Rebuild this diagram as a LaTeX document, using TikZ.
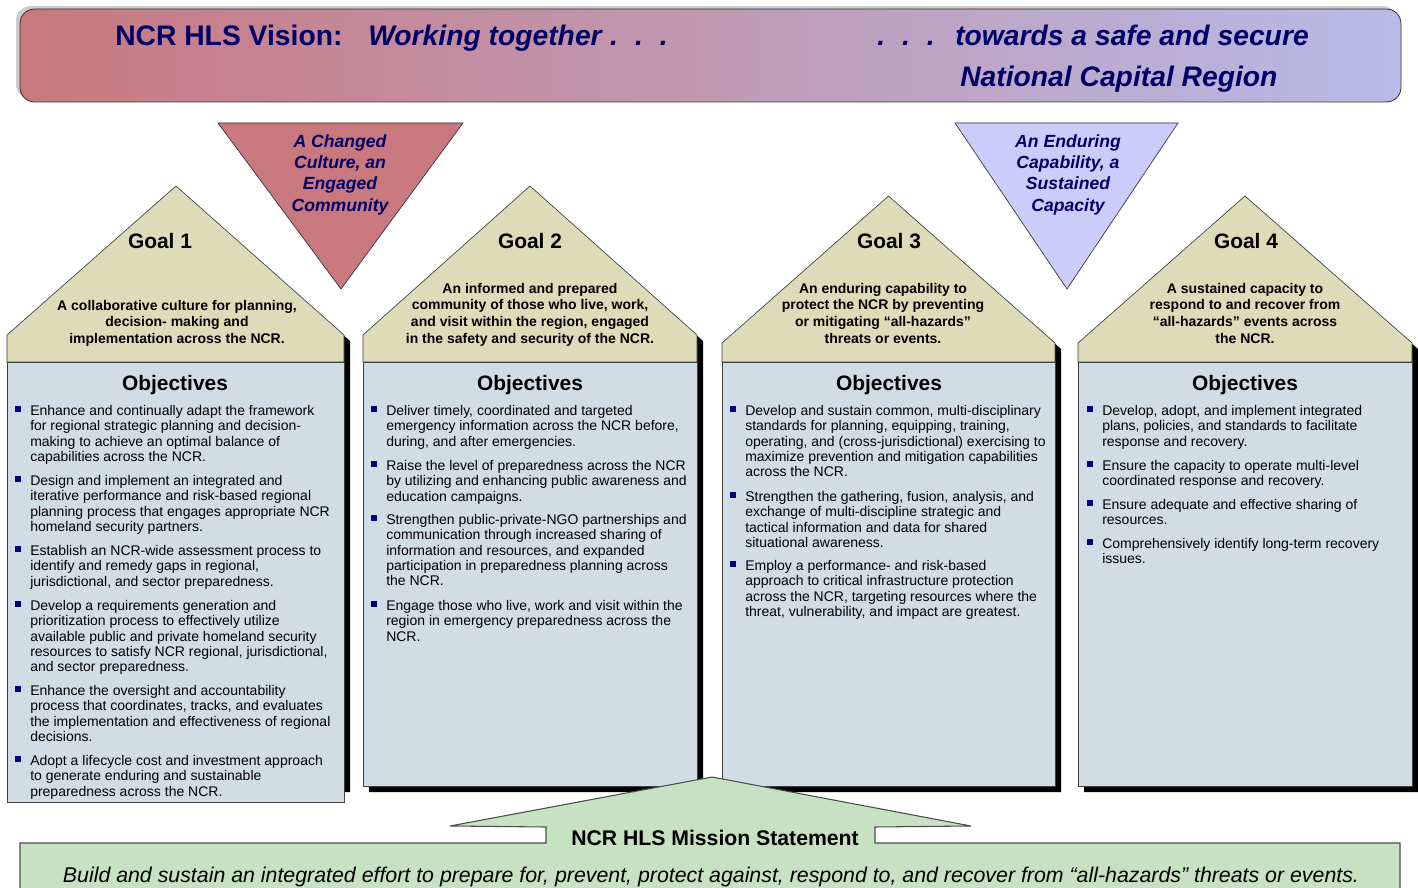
\documentclass[tikz,border=0pt]{standalone}
\usepackage{fontspec}
\setmainfont{Liberation Sans}
\definecolor{navy}{RGB}{0,0,102}
\definecolor{bulletblue}{RGB}{0,0,128}
\definecolor{roofbeige}{RGB}{222,220,184}
\definecolor{bodyblue}{RGB}{209,221,229}
\definecolor{trired}{RGB}{201,120,126}
\definecolor{triblue}{RGB}{204,204,250}
\definecolor{missiongreen}{RGB}{200,225,195}
\definecolor{bannerleft}{RGB}{200,120,126}
\definecolor{bannerright}{RGB}{184,186,232}
\tikzset{
	roof/.style={fill=roofbeige,draw=black!75,line width=0.5pt},
	body/.style={fill=bodyblue,draw=black!75,line width=0.5pt},
	houseshadow/.style={fill=black},
	goaltitle/.style={anchor=base,font=\fontsize{15.7}{18}\selectfont\bfseries},
	goaltext/.style={anchor=north,align=center,inner sep=0,font=\fontsize{10.5}{12.4}\selectfont\bfseries},
	objtitle/.style={anchor=base,font=\fontsize{15.7}{18}\selectfont\bfseries},
	obj/.style={anchor=north west,align=left,inner sep=0,font=\fontsize{10.5}{11.5}\selectfont},
	bul/.style={fill=bulletblue,minimum size=4pt,inner sep=0},
	tritext/.style={anchor=north,align=center,inner sep=0,text=navy,font=\fontsize{13.2}{16}\selectfont\bfseries\itshape},
	bannertext/.style={anchor=base west,inner sep=0,text=navy,font=\fontsize{21.2}{24}\selectfont\bfseries},
	bannerital/.style={bannertext,font=\fontsize{21.2}{24}\selectfont\bfseries\itshape},
}
\begin{document}
\begin{tikzpicture}[x=0.75pt,y=-0.75pt]
	\useasboundingbox (0,0) rectangle (1418,888);
	% vision banner
	\fill [gray!40,rounded corners=11pt] (16,6) rectangle (1397,99);
	\draw [rounded corners=11pt,left color=bannerleft,right color=bannerright,draw=black!80,line width=0.6pt] (20,9) rectangle (1401,102);
	\node [bannertext] (vision) at (115,46) {NCR HLS Vision:};
	\node [bannerital] (together) at (368,46) {Working together\hspace{0.3em}.\hspace{0.6em}.\hspace{0.6em}.};
	\node [bannerital] (dots) at (877,46) {.\hspace{0.6em}.\hspace{0.6em}.};
	\node [bannerital] (towards) at (955,46) {towards a safe and secure};
	\node [bannerital] (region) at (960,87) {National Capital Region};
	% outcome triangles
	\draw [fill=trired,draw=black!80,line width=0.5pt] (218,123) -- (463,123) -- (341,289) -- cycle;
	\node [tritext] (culture) at (340,134) {A Changed\\Culture, an\\Engaged\\Community};
	\draw [fill=triblue,draw=black!80,line width=0.5pt] (955,123) -- (1178,123) -- (1067,289) -- cycle;
	\node [tritext] (capability) at (1068,134) {An Enduring\\Capability, a\\Sustained\\Capacity};
	% house 1
	\fill [houseshadow] (13,368) -- (13,341) -- (182,192) -- (350,341) -- (350,792) -- (13,792) -- cycle;
	\draw [roof] (7,362) -- (7,335) -- (176,186) -- (344,335) -- (344,362) -- cycle;
	\draw [body] (7,362) rectangle (344,802);
	% house 2
	\fill [houseshadow] (369,368) -- (369,341) -- (536,192) -- (703,341) -- (703,792) -- (369,792) -- cycle;
	\draw [roof] (363,362) -- (363,335) -- (530,186) -- (697,335) -- (697,362) -- cycle;
	\draw [body] (363,362) rectangle (697,786);
	% house 3
	\fill [houseshadow] (728,368) -- (728,349) -- (894.5,202) -- (1061,349) -- (1061,792) -- (728,792) -- cycle;
	\draw [roof] (722,362) -- (722,343) -- (888.5,196) -- (1055,343) -- (1055,362) -- cycle;
	\draw [body] (722,362) rectangle (1055,786);
	% house 4
	\fill [houseshadow] (1084,368) -- (1084,349) -- (1251,202) -- (1418,349) -- (1418,792) -- (1084,792) -- cycle;
	\draw [roof] (1078,362) -- (1078,343) -- (1245,196) -- (1412,343) -- (1412,362) -- cycle;
	\draw [body] (1078,362) rectangle (1412,786);
	% goals
	\node [goaltitle] (goal1) at (160,248.5) {Goal 1};
	\node [goaltext] (goal1text) at (177,300) {A collaborative culture for planning,\\decision- making and\\implementation across the NCR.};
	\node [goaltitle] (goal2) at (530,248.5) {Goal 2};
	\node [goaltext] (goal2text) at (530,283) {An informed and prepared\\community of those who live, work,\\and visit within the region, engaged\\in the safety and security of the NCR.};
	\node [goaltitle] (goal3) at (889,248.5) {Goal 3};
	\node [goaltext] (goal3text) at (883,283) {An enduring capability to\\protect the NCR by preventing\\or mitigating “all-hazards”\\threats or events.};
	\node [goaltitle] (goal4) at (1246,248.5) {Goal 4};
	\node [goaltext] (goal4text) at (1245,283) {A sustained capacity to\\respond to and recover from\\“all-hazards” events across\\the NCR.};
	% objectives
	\node [objtitle] (obj1) at (175,390.5) {Objectives};
	\node [objtitle] (obj2) at (530,390.5) {Objectives};
	\node [objtitle] (obj3) at (889,390.5) {Objectives};
	\node [objtitle] (obj4) at (1245,390.5) {Objectives};
	\foreach \y in {410,480,550,605,690,760} \node [bul] at (18,\y-1) {};
	\foreach \y in {410,465,519,605} \node [bul] at (374,\y-1) {};
	\foreach \y in {410,496,565} \node [bul] at (733,\y-1) {};
	\foreach \y in {410,465,504,543} \node [bul] at (1090,\y-1) {};
	\node [obj] (g1o1) at (30,405) {Enhance and continually adapt the framework\\for regional strategic planning and decision-\\making to achieve an optimal balance of\\capabilities across the NCR.};
	\node [obj] (g1o2) at (30,475) {Design and implement an integrated and\\iterative performance and risk-based regional\\planning process that engages appropriate NCR\\homeland security partners.};
	\node [obj] (g1o3) at (30,545) {Establish an NCR-wide assessment process to\\identify and remedy gaps in regional,\\jurisdictional, and sector preparedness.};
	\node [obj] (g1o4) at (30,600) {Develop a requirements generation and\\prioritization process to effectively utilize\\available public and private homeland security\\resources to satisfy NCR regional, jurisdictional,\\and sector preparedness.};
	\node [obj] (g1o5) at (30,685) {Enhance the oversight and accountability\\process that coordinates, tracks, and evaluates\\the implementation and effectiveness of regional\\decisions.};
	\node [obj] (g1o6) at (30,755) {Adopt a lifecycle cost and investment approach\\to generate enduring and sustainable\\preparedness across the NCR.};
	\node [obj] (g2o1) at (386,405) {Deliver timely, coordinated and targeted\\emergency information across the NCR before,\\during, and after emergencies.};
	\node [obj] (g2o2) at (386,460) {Raise the level of preparedness across the NCR\\by utilizing and enhancing public awareness and\\education campaigns.};
	\node [obj] (g2o3) at (386,514) {Strengthen public-private-NGO partnerships and\\communication through increased sharing of\\information and resources, and expanded\\participation in preparedness planning across\\the NCR.};
	\node [obj] (g2o4) at (386,600) {Engage those who live, work and visit within the\\region in emergency preparedness across the\\NCR.};
	\node [obj] (g3o1) at (745,405) {Develop and sustain common, multi-disciplinary\\standards for planning, equipping, training,\\operating, and (cross-jurisdictional) exercising to\\maximize prevention and mitigation capabilities\\across the NCR.};
	\node [obj] (g3o2) at (745,491) {Strengthen the gathering, fusion, analysis, and\\exchange of multi-discipline strategic and\\tactical information and data for shared\\situational awareness.};
	\node [obj] (g3o3) at (745,560) {Employ a performance- and risk-based\\approach to critical infrastructure protection\\across the NCR, targeting resources where the\\threat, vulnerability, and impact are greatest.};
	\node [obj] (g4o1) at (1102,405) {Develop, adopt, and implement integrated\\plans, policies, and standards to facilitate\\response and recovery.};
	\node [obj] (g4o2) at (1102,460) {Ensure the capacity to operate multi-level\\coordinated response and recovery.};
	\node [obj] (g4o3) at (1102,499) {Ensure adequate and effective sharing of\\resources.};
	\node [obj] (g4o4) at (1102,538) {Comprehensively identify long-term recovery\\issues.};
	% mission statement
	\draw [fill=missiongreen,draw=black!70,line width=0.8pt] (20,895) -- (20,843) -- (546,843) -- (546,827) -- (450,826) -- (712,777) -- (971,826) -- (875,827) -- (875,843) -- (1400,843) -- (1400,895);
	\node [anchor=base,inner sep=0,font=\fontsize{15.9}{18}\selectfont\bfseries] (mission) at (715,845.5) {NCR HLS Mission Statement};
	\node [anchor=base,inner sep=0,font=\fontsize{16}{18}\selectfont\itshape] (missiontext) at (711,882) {Build and sustain an integrated effort to prepare for, prevent, protect against, respond to, and recover from “all-hazards” threats or events.};
\end{tikzpicture}
\end{document}
